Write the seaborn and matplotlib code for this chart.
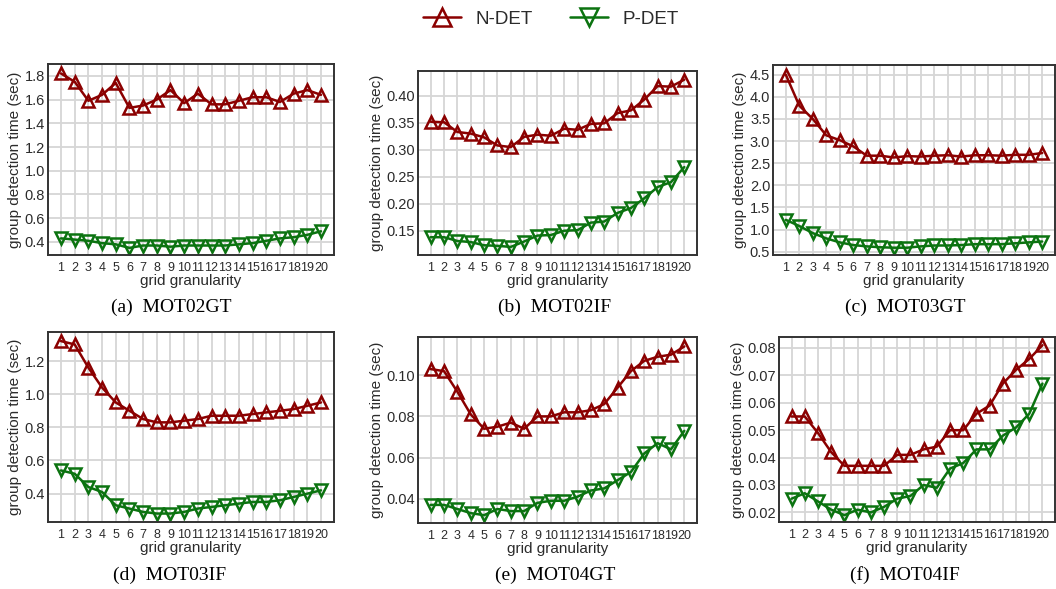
import numpy as np
import pandas as pd
import matplotlib
matplotlib.use("Agg")
import matplotlib.pyplot as plt
import seaborn as sns

# =====================================================
# DATA
# =====================================================
grid = list(range(1, 21))

mot02gt_n = [1.82, 1.75, 1.59, 1.64, 1.74, 1.53, 1.55, 1.60, 1.68, 1.57,
             1.65, 1.56, 1.56, 1.59, 1.62, 1.62, 1.58, 1.65, 1.68, 1.64]
mot02gt_p = [0.43, 0.42, 0.41, 0.39, 0.38, 0.35, 0.37, 0.37, 0.36, 0.37,
             0.37, 0.37, 0.37, 0.38, 0.39, 0.41, 0.43, 0.44, 0.46, 0.49]

mot02if_n = [0.352, 0.351, 0.333, 0.330, 0.323, 0.308, 0.305, 0.324, 0.328, 0.326,
             0.339, 0.337, 0.348, 0.349, 0.368, 0.373, 0.393, 0.418, 0.417, 0.430]
mot02if_p = [0.138, 0.138, 0.131, 0.129, 0.123, 0.122, 0.120, 0.130, 0.141, 0.142,
             0.150, 0.151, 0.165, 0.167, 0.183, 0.192, 0.210, 0.231, 0.240, 0.268]

mot03gt_n = [4.50, 3.80, 3.50, 3.13, 3.02, 2.88, 2.67, 2.67, 2.63, 2.66,
             2.65, 2.67, 2.68, 2.65, 2.68, 2.68, 2.67, 2.69, 2.69, 2.73]
mot03gt_p = [1.22, 1.08, 0.92, 0.80, 0.71, 0.65, 0.62, 0.60, 0.59, 0.59,
             0.62, 0.64, 0.64, 0.65, 0.67, 0.67, 0.67, 0.69, 0.71, 0.73]

mot03if_n = [1.32, 1.30, 1.16, 1.04, 0.95, 0.90, 0.85, 0.83, 0.83, 0.84,
             0.85, 0.87, 0.87, 0.87, 0.88, 0.89, 0.90, 0.91, 0.93, 0.95]
mot03if_p = [0.54, 0.52, 0.44, 0.41, 0.33, 0.31, 0.29, 0.28, 0.28, 0.29,
             0.31, 0.32, 0.33, 0.34, 0.35, 0.35, 0.36, 0.38, 0.40, 0.42]

mot04gt_n = [0.103, 0.102, 0.092, 0.081, 0.074, 0.075, 0.077, 0.074, 0.080, 0.080,
             0.082, 0.082, 0.083, 0.086, 0.094, 0.102, 0.107, 0.109, 0.110, 0.114]
mot04gt_p = [0.037, 0.037, 0.035, 0.033, 0.032, 0.035, 0.034, 0.034, 0.038, 0.039,
             0.039, 0.041, 0.044, 0.045, 0.049, 0.053, 0.062, 0.067, 0.064, 0.073]

mot04if_n = [0.055, 0.055, 0.049, 0.042, 0.037, 0.037, 0.037, 0.037, 0.041, 0.041,
             0.043, 0.044, 0.050, 0.050, 0.056, 0.059, 0.067, 0.072, 0.076, 0.081]
mot04if_p = [0.025, 0.027, 0.024, 0.021, 0.019, 0.021, 0.020, 0.022, 0.025, 0.026,
             0.030, 0.029, 0.036, 0.038, 0.043, 0.043, 0.048, 0.051, 0.056, 0.067]

captions = ["(a)  MOT02GT", "(b)  MOT02IF", "(c)  MOT03GT",
            "(d)  MOT03IF", "(e)  MOT04GT", "(f)  MOT04IF"]

# =====================================================
# STYLE
# =====================================================
sns.set_style("whitegrid", {
    "grid.color": "#d6d6d6",
    "axes.edgecolor": "#333333",
})
plt.rcParams.update({
    "font.family": ["Liberation Sans", "DejaVu Sans"],
    "axes.linewidth": 1.4,
    "grid.linewidth": 1.3,
    "text.color": "#2b2b2b",
    "axes.labelcolor": "#2b2b2b",
    "xtick.color": "#2b2b2b",
    "ytick.color": "#2b2b2b",
})

W, H = 1056, 589
fig = plt.figure(figsize=(W / 100, H / 100), dpi=100)

# pixel boxes: left, top, right, bottom
boxes = [
    (48, 64, 334, 255), (418, 71, 697, 255), (773, 65, 1055, 255),
    (48, 332, 334, 522), (418, 337, 697, 523), (779, 337, 1055, 522),
]
ylims = [(0.29, 1.90), (0.105, 0.446), (0.425, 4.72),
         (0.229, 1.375), (0.0282, 0.1186), (0.0165, 0.084)]
yticks = [np.arange(0.4, 1.81, 0.2), np.arange(0.15, 0.41, 0.05), np.arange(0.5, 4.51, 0.5),
          np.arange(0.4, 1.21, 0.2), np.arange(0.04, 0.101, 0.02), np.arange(0.02, 0.081, 0.01)]
yfmt = ["%.1f", "%.2f", "%.1f", "%.1f", "%.2f", "%.2f"]
cap_pos = [(171, 307), (555, 307), (905, 307), (170, 575), (555, 575), (905, 575)]

series = [(mot02gt_n, mot02gt_p), (mot02if_n, mot02if_p), (mot03gt_n, mot03gt_p),
          (mot03if_n, mot03if_p), (mot04gt_n, mot04gt_p), (mot04if_n, mot04if_p)]

RED = "#8b0000"
GREEN = "#0b7310"

for i, (box, (n_vals, p_vals)) in enumerate(zip(boxes, series)):
    l, t, r, b = box
    ax = fig.add_axes([l / W, (H - b) / H, (r - l) / W, (b - t) / H])

    df = pd.DataFrame({"grid": grid, "N-DET": n_vals, "P-DET": p_vals})

    sns.lineplot(data=df, x="grid", y="N-DET", ax=ax, color=RED,
                 linewidth=1.8, marker="^", markersize=9,
                 markerfacecolor="none", markeredgecolor=RED,
                 markeredgewidth=1.8, label="N-DET", legend=False)
    sns.lineplot(data=df, x="grid", y="P-DET", ax=ax, color=GREEN,
                 linewidth=1.8, marker="v", markersize=9,
                 markerfacecolor="none", markeredgecolor=GREEN,
                 markeredgewidth=1.8, label="P-DET", legend=False)

    ax.set_xlim(0.05, 20.95)
    ax.set_xticks(grid)
    ax.set_ylim(*ylims[i])
    ax.set_yticks(yticks[i])
    ax.set_yticklabels([yfmt[i] % v for v in yticks[i]])
    ax.tick_params(axis="x", labelsize=9, pad=5, length=0)
    ax.tick_params(axis="y", labelsize=10.5, pad=2, length=0)
    ax.set_xlabel("grid granularity", fontsize=11, labelpad=0)
    ax.set_ylabel("group detection time (sec)", fontsize=11, labelpad=2)
    for s in ax.spines.values():
        s.set_visible(True)
        s.set_color("#333333")

    cx, cy = cap_pos[i]
    fig.text(cx / W, 1 - cy / H, captions[i], ha="center", va="center",
             fontsize=14, family="Liberation Serif", color="black")

    if i == 0:
        handles, labels = ax.get_legend_handles_labels()

fig.legend(handles, labels, loc="center", bbox_to_anchor=(551 / W, 1 - 19 / H),
           ncol=2, frameon=False, fontsize=13.5, markerscale=1.4,
           columnspacing=2.0, handletextpad=0.8)

fig.savefig("out.png", dpi=100)
